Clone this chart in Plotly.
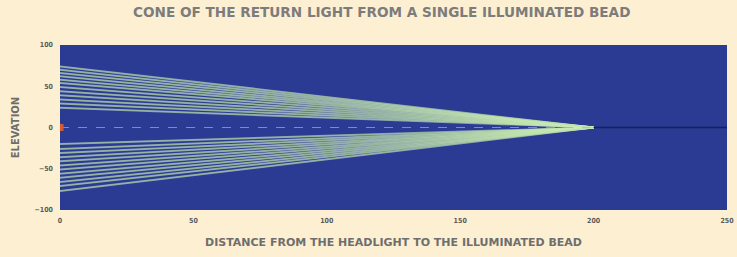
import plotly.graph_objects as go

# Data
bead_distance = 200          # where the return cone converges (illuminated bead)
axis_end = 250
upper_start_elev = [24, 29, 34, 39, 44, 49, 54, 58, 62, 66, 70, 74]
lower_start_elev = [-20, -26, -31, -36, -41, -46, -51, -56, -61, -66, -71, -77]
x_ticks = [0, 50, 100, 150, 200, 250]
y_ticks = [-100, -50, 0, 50, 100]

fig = go.Figure()

for e in upper_start_elev + lower_start_elev:
    fig.add_trace(go.Scatter(
        x=[0, bead_distance], y=[e, 0], mode="lines",
        line=dict(color="rgba(210,238,190,0.55)", width=2),
        hoverinfo="skip", showlegend=False))
    fig.add_trace(go.Scatter(
        x=[0, bead_distance], y=[e, 0], mode="lines",
        line=dict(color="rgba(170,215,150,0.6)", width=0.8),
        hoverinfo="skip", showlegend=False))

# axis of the cone
fig.add_trace(go.Scatter(
    x=[0, bead_distance], y=[0, 0], mode="lines",
    line=dict(color="rgba(200,160,190,0.7)", width=1.2, dash="dash"),
    hoverinfo="skip", showlegend=False))
fig.add_trace(go.Scatter(
    x=[bead_distance, axis_end], y=[0, 0], mode="lines",
    line=dict(color="#16205a", width=1.5),
    hoverinfo="skip", showlegend=False))
fig.add_trace(go.Scatter(
    x=[0], y=[0], mode="markers",
    marker=dict(color="#d05a3a", size=7, symbol="square"),
    hoverinfo="skip", showlegend=False))

fig.update_layout(
    width=737, height=257,
    margin=dict(l=60, r=10, t=45, b=47, autoexpand=False),
    paper_bgcolor="#fdf0d2",
    plot_bgcolor="#2b3a93",
    title=dict(text="CONE OF THE RETURN LIGHT FROM A SINGLE ILLUMINATED BEAD",
               x=0.518, xanchor="center", y=0.951, yanchor="middle",
               font=dict(family="DejaVu Sans, Arial", size=13.6, color="#7c7c7c", weight="bold")),
    font=dict(family="DejaVu Sans, Arial", color="#444444"),
)
fig.update_xaxes(range=[0, axis_end], tickvals=x_ticks, showgrid=False, zeroline=False,
                 automargin=False,
                 tickfont=dict(size=7, family="DejaVu Sans Condensed", weight="bold", color="#5a5a5a"),
                 ticks="", showline=False, ticklabelstandoff=5,
                 title=dict(text="DISTANCE FROM THE HEADLIGHT TO THE ILLUMINATED BEAD",
                            font=dict(size=11, family="DejaVu Sans", weight="bold", color="#6e6e6e"),
                            standoff=14))
fig.update_yaxes(range=[-100, 100], tickvals=y_ticks, showgrid=False, zeroline=False,
                 automargin=False,
                 tickfont=dict(size=7, family="DejaVu Sans Condensed", weight="bold", color="#5a5a5a"),
                 ticks="", showline=False, ticklabelstandoff=6,
                 title=dict(text="ELEVATION",
                            font=dict(size=10, family="DejaVu Sans", weight="bold", color="#6e6e6e"),
                            standoff=13))

fig.write_html("out.html", config={"displayModeBar": False},
               post_script="document.body.style.margin='0';document.body.style.background='#fdf0d2';")
